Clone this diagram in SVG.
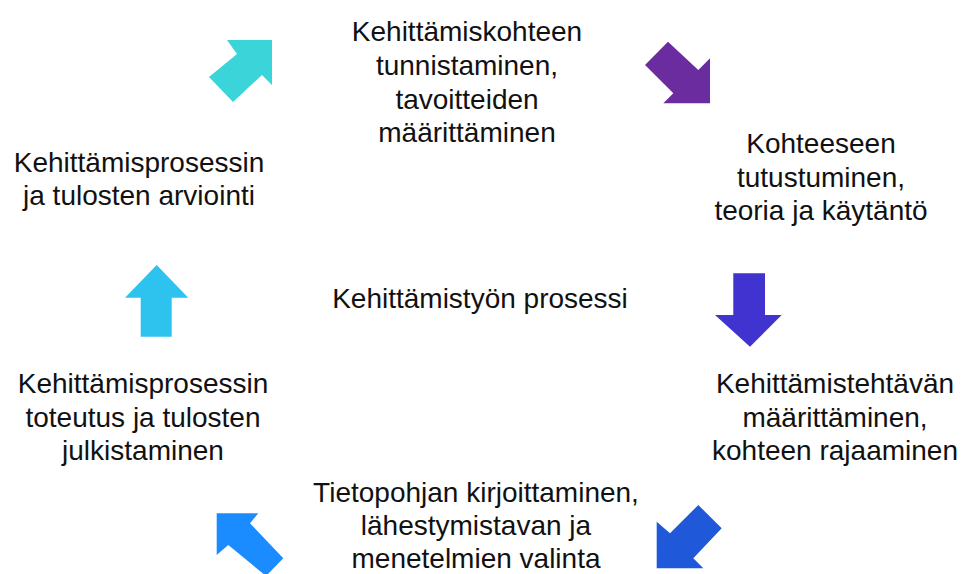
<svg xmlns="http://www.w3.org/2000/svg" width="969" height="574" viewBox="0 0 969 574">
<style>
text{font-family:"Liberation Sans",Arial,Helvetica,sans-serif;font-size:28px;fill:#111;text-anchor:middle}
</style>
<rect width="969" height="574" fill="#fff"/>
<g id="connectors">
<polygon id="a1" fill="#3bd4d9" points="272,40 227,40 237,54 209,77 233,102 262,75 272,85"/>
<polygon id="a2" fill="#6a2c9e" points="668,41.7 645,65 673.3,93.3 663.3,103.3 710,103.3 710,58.3 698.3,70"/>
<polygon id="a3" fill="#4033cf" points="733.3,273.3 765,273.3 765,315 781.7,315 750,346.7 715,315 733.3,315"/>
<polygon id="a4" fill="#1f58d8" points="698.3,505 721.7,528.3 693.3,558.3 703.3,568.3 656.7,568.3 656.7,521.7 670,533.3"/>
<polygon id="a5" fill="#1b8cff" points="216.7,513.3 258.3,513.3 250,523.3 283.3,558.3 266,576 228.3,545 216.7,555"/>
<polygon id="a6" fill="#2ec3ef" points="156.7,265 188.3,297.7 171.7,297.7 171.7,336.7 140.7,336.7 140.7,297.7 125,297.7"/>
</g>
<g id="n1">
<text x="467" y="41">Kehittämiskohteen</text>
<text x="467" y="75">tunnistaminen,</text>
<text x="467" y="108.5">tavoitteiden</text>
<text x="467" y="142">määrittäminen</text>
</g>
<g id="n2">
<text x="821" y="153">Kohteeseen</text>
<text x="821" y="186.5">tutustuminen,</text>
<text x="821" y="220">teoria ja käytäntö</text>
</g>
<g id="n3">
<text x="835" y="393">Kehittämistehtävän</text>
<text x="835" y="426.5">määrittäminen,</text>
<text x="835" y="460">kohteen rajaaminen</text>
</g>
<g id="n4">
<text x="476" y="502">Tietopohjan kirjoittaminen,</text>
<text x="476" y="535">lähestymistavan ja</text>
<text x="476" y="568">menetelmien valinta</text>
</g>
<g id="n5">
<text x="143" y="393">Kehittämisprosessin</text>
<text x="143" y="426.5">toteutus ja tulosten</text>
<text x="143" y="460">julkistaminen</text>
</g>
<g id="n6">
<text x="139" y="171.5">Kehittämisprosessin</text>
<text x="139" y="205">ja tulosten arviointi</text>
</g>
<g id="center">
<text x="480" y="308">Kehittämistyön prosessi</text>
</g>
</svg>
